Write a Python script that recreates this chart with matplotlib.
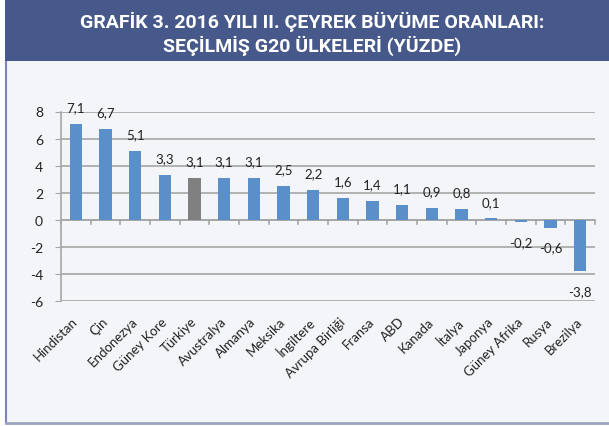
import matplotlib
matplotlib.use("Agg")
import matplotlib.pyplot as plt
from matplotlib.patches import Rectangle
from matplotlib.lines import Line2D
import numpy as np

countries = ["Hindistan", "Çin", "Endonezya", "Güney Kore", "Türkiye", "Avustralya",
             "Almanya", "Meksika", "İngiltere", "Avrupa Birliği", "Fransa", "ABD",
             "Kanada", "İtalya", "Japonya", "Güney Afrika", "Rusya", "Brezilya"]
growth = [7.1, 6.7, 5.1, 3.3, 3.1, 3.1, 3.1, 2.5, 2.2, 1.6, 1.4, 1.1, 0.9, 0.8, 0.1, -0.2, -0.6, -3.8]
highlight = "Türkiye"

title = "GRAFİK 3. 2016 YILI II. ÇEYREK BÜYÜME ORANLARI:\nSEÇİLMİŞ G20 ÜLKELERİ (YÜZDE)"

W, H = 609, 427
plt.rcParams['font.family'] = ['Lato', 'DejaVu Sans']
plt.rcParams['axes.unicode_minus'] = False

fig = plt.figure(figsize=(W / 100, H / 100), dpi=100, facecolor="white")

# panel + header (behind the axes)
fig.patches.append(Rectangle((6 / W, 1 - 424 / H), 1 - 6 / W, (424 - 62) / H,
                             transform=fig.transFigure, facecolor="#f4f5f8", edgecolor="none", zorder=-2))
fig.lines.append(Line2D([6 / W, 6 / W], [1 - 424 / H, 1 - 62 / H], transform=fig.transFigure,
                        color="#7b86b8", lw=1.5, zorder=-1))
fig.lines.append(Line2D([6 / W, 1], [1 - 424 / H, 1 - 424 / H], transform=fig.transFigure,
                        color="#9aa3bf", lw=2, zorder=-1))
fig.patches.append(Rectangle((5 / W, 1 - 62 / H), 1 - 5 / W, 62 / H,
                             transform=fig.transFigure, facecolor="#47598a", edgecolor="none", zorder=-1))
fig.text(312 / W, 1 - 34 / H, title, ha="center", va="center", color="white",
         fontsize=14, fontweight="bold", linespacing=1.2,
         family=['Roboto', 'DejaVu Sans'])

ax = fig.add_axes([61 / W, 1 - 302 / H, (595 - 61) / W, (302 - 112.5) / H])
ax.set_facecolor("none")

x = np.arange(len(countries))
colors = ["#808080" if c == highlight else "#5b8fc9" for c in countries]
ax.bar(x, growth, width=0.42, color=colors, zorder=3)

for xi, v in zip(x, growth):
    txt = f"{v:.1f}".replace(".", ",")
    if v >= 0:
        ax.annotate(txt, (xi, v), xytext=(0, 12), textcoords="offset points",
                    ha="center", va="center", fontsize=9.5, color="#222222")
    else:
        ax.annotate(txt, (xi, v), xytext=(0, -14), textcoords="offset points",
                    ha="center", va="center", fontsize=9.5, color="#222222")

ax.set_xlim(-0.5, len(countries) - 0.5)
ax.set_ylim(-6, 8)
ax.set_yticks(np.arange(-6, 9, 2))
ax.grid(axis="y", color="#a6a6a6", lw=1.2, zorder=0)
ax.set_axisbelow(True)

for s in ["top", "right", "bottom"]:
    ax.spines[s].set_visible(False)
ax.spines["left"].set_color("#a6a6a6")
ax.spines["left"].set_linewidth(1.2)

# x axis at zero with boundary ticks
ax.axhline(0, color="#a6a6a6", lw=1.2, zorder=2)
for b in np.arange(-0.5, len(countries), 1.0):
    ax.plot([b, b], [0, -0.3], color="#a6a6a6", lw=1.2, zorder=2, clip_on=False)

ax.tick_params(axis="y", length=4, color="#a6a6a6", labelsize=10, pad=9, labelcolor="#222222")
ax.set_xticks(x)
ax.set_xticklabels(countries, rotation=45, ha="right", va="center", rotation_mode="anchor",
                   fontsize=9.5, color="#222222")
ax.tick_params(axis="x", length=0, pad=13)

fig.savefig("out.png", dpi=100, facecolor=fig.get_facecolor())
